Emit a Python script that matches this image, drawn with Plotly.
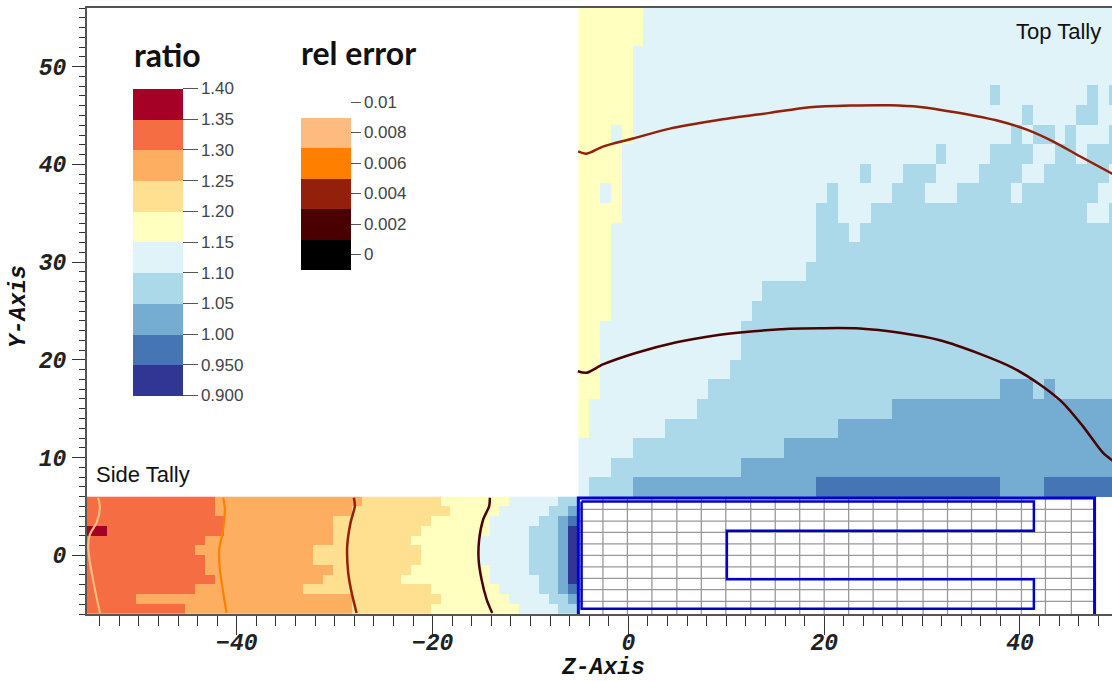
import plotly.graph_objects as go

# ratio bands: letter -> (band midpoint, colour)
ratio_edges = [0.90, 0.95, 1.00, 1.05, 1.10, 1.15, 1.20, 1.25, 1.30, 1.35, 1.40]
ratio_colors = ["#313695", "#4575B4", "#74ADD1", "#ABD9E9", "#E0F3F8",
                "#FFFFBF", "#FEE090", "#FDAE61", "#F46D43", "#A50026"]
band_value = {"N": 0.925, "B": 0.975, "D": 1.025, "M": 1.075, "L": 1.125,
              "Y": 1.175, "P": 1.225, "o": 1.275, "O": 1.325, "A": 1.375}
ratio_ticks = [1.40, 1.35, 1.30, 1.25, 1.20, 1.15, 1.10, 1.05, 1.00, 0.95, 0.90]
ratio_ticktext = ["1.40", "1.35", "1.30", "1.25", "1.20", "1.15", "1.10", "1.05", "1.00", "0.950", "0.900"]

# rel error bands
rel_ticks = [0, 0.002, 0.004, 0.006, 0.008, 0.01]
rel_ticktext = ["0", "0.002", "0.004", "0.006", "0.008", "0.01"]
rel_colors = ["#000000", "#4B0000", "#92200A", "#FF8000", "#FDBB7F", "#FFFFFF"]

# top tally, row by row from y=6 upward, run lengths of bands along Z
top_rows = [
    "L1 M4 D17 B17 D4 B7",
    "L3 M12 D35",
    "L5 M14 D31",
    "Y1 L7 M16 D26",
    "Y1 L10 M18 D21",
    "Y2 L10 M27 D3 M1 D1 M6",
    "Y2 L12 M36",
    "Y2 L13 M35",
    "Y2 L13 M35",
    "Y3 L13 M34",
    "Y3 L14 M33",
    "Y3 L18 M29",
    "Y3 L19 M28",
    "Y3 L19 M3 L1 M24",
    "Y4 L18 M2 L3 M20 L2 M1",
    "Y2 L1 Y1 L19 M1 L5 M3 L3 M5 L1 M7 L2",
    "Y4 L22 M1 L3 M3 L4 M4 L2 M6 L1",
    "Y4 L29 M1 L4 M4 L2 M2 L1 M3",
    "Y3 L1 Y1 L35 M1 L1 M2 L1 M1 L3 M1",
    "Y5 L36 M1 L4 M2 L2",
    "Y5 L33 M1 L8 M1 L1 M1",
    "Y5 L45",
    "Y5 L45",
    "Y6 L44",
    "Y6 L44",
]
# side tally, row by row from y=6 downward
side_rows = [
    "O13 o15 P8 Y7 L5 M2",
    "O13 o14 P10 Y5 L5 M2 D1",
    "O14 o11 P10 Y6 L5 M2 D1 B1",
    "A2 O12 o11 P9 Y7 L4 M3 D1 N1",
    "O12 o13 P8 Y7 L5 M3 D1 N1",
    "O11 o12 P11 Y6 L5 M3 D1 N1",
    "O12 o11 P11 Y6 L5 M3 D1 N1",
    "O12 o13 P8 Y8 L4 M3 D1 N1",
    "O13 o11 P8 Y9 L5 M2 D1 N1",
    "O11 o11 P13 Y7 L4 M2 D1 B1",
    "O5 o22 P9 Y7 L4 M2 D1",
    "O10 o17 P8 Y9 L4 M2",
]

# rel error contours: (z, y, level)
c_top_z = [-5.13, -4.27, -2.60, 0.46, 4.24, 9.04, 14.45, 18.54, 22.63, 26.71, 29.78, 33.55, 37.95, 40.7, 43.36, 46.12, 49.5]
c_top_y = [41.34, 41.1, 41.82, 42.64, 43.66, 44.51, 45.27, 45.84, 46.02, 46.05, 45.88, 45.3, 44.41, 43.56, 42.36, 40.83, 39.0]
c_low_z = [-5.16, -4.27, -2.6, 0.84, 4.92, 9.01, 11.7, 16.5, 19.56, 23.64, 27.73, 31.82, 35.9, 39.27, 42.03, 44.38, 46.42, 48.47, 49.5]
c_low_y = [18.84, 18.68, 19.53, 20.73, 21.81, 22.53, 22.83, 23.18, 23.24, 23.21, 22.77, 22.01, 20.62, 19.19, 17.48, 15.61, 13.22, 10.5, 9.65]
c_s1_z = [-54.16, -53.98, -54.32, -55.0, -55.18, -55.0, -54.49, -53.98]
c_s1_y = [5.9, 4.88, 3.34, 2.15, 0.95, -0.72, -3.48, -5.9]
c_s2_z = [-41.39, -41.22, -41.45, -41.8, -41.73, -41.39, -41.04]
c_s2_y = [5.9, 4.7, 2.32, 0.61, -1.43, -3.78, -5.9]
c_s3_z = [-28.04, -27.94, -28.38, -28.72, -28.62, -28.27, -27.76]
c_s3_y = [5.9, 5.04, 3.34, 0.95, -1.77, -3.81, -5.9]
c_s4_z = [-14.15, -14.22, -14.83, -15.24, -15.3, -15.0, -14.48, -13.91]
c_s4_y = [5.9, 5.04, 3.68, 1.64, -0.41, -2.45, -4.5, -5.9]

# assembly outline and mesh
outer_z = [-5.11, -5.11, 47.62, 47.62]
outer_y = [-6, 5.88, 5.88, -6]
inner_z = [-4.78, 41.42, 41.42, 10.06, 10.06, 41.42, 41.42, -4.78, -4.78]
inner_y = [5.52, 5.52, 2.51, 2.51, -2.45, -2.45, -5.47, -5.47, 5.52]
mesh_z = [-2.6, -0.1, 2.4, 4.95, 7.45, 9.95, 12.5, 15.0, 17.5, 20.0, 22.5, 25.0, 27.45, 30.1, 32.6, 35.05, 37.6, 40.15, 42.6, 45.25]
mesh_y = [4.7, 3.5, 2.35, 1.17, 0, -1.17, -2.35, -3.5, -4.7]


def decode(row):
    out = []
    for run in row.split():
        out += [band_value[run[0]]] * int(run[1:])
    assert len(out) == 50, row
    return out


def stepped(colors):
    n = len(colors)
    scale = []
    for i, c in enumerate(colors):
        scale += [[i / n, c], [(i + 1) / n, c]]
    return scale


ratio_scale = stepped(ratio_colors)
rel_scale = stepped(rel_colors)
rel_color = dict(zip(rel_ticks, rel_colors))

top_z_edges = [-5.1 + 1.106 * i for i in range(51)]
top_y_edges = [6 + 2.004 * i for i in range(26)]
side_z_edges = [-55.3 + 1.004 * i for i in range(51)]
side_y_edges = list(range(-6, 7))

LABEL = dict(family="Liberation Sans", size=17, color="#444444")

fig = go.Figure()
fig.add_trace(go.Heatmap(
    x=top_z_edges, y=top_y_edges, z=[decode(r) for r in top_rows],
    zmin=0.9, zmax=1.4, colorscale=ratio_scale,
    colorbar=dict(
        xref="container", yref="container", x=133 / 1112, xanchor="left",
        y=1 - 99.5 / 681, yanchor="top", lenmode="pixels", len=307,
        thicknessmode="pixels", thickness=50, xpad=0, ypad=0, outlinewidth=0,
        tickvals=ratio_ticks, ticktext=ratio_ticktext, ticks="outside",
        ticklen=15, tickcolor="#555555", tickwidth=1, tickfont=LABEL),
))
fig.add_trace(go.Heatmap(
    x=side_z_edges, y=side_y_edges, z=[decode(r) for r in reversed(side_rows)],
    zmin=0.9, zmax=1.4, colorscale=ratio_scale, showscale=False,
))

# mesh
grid_x, grid_y = [], []
for z in mesh_z:
    grid_x += [z, z, None]
    grid_y += [-6, 5.88, None]
for y in mesh_y:
    grid_x += [outer_z[0], outer_z[-1], None]
    grid_y += [y, y, None]
fig.add_trace(go.Scatter(x=grid_x, y=grid_y, mode="lines",
                         line=dict(color="#999999", width=1.3), showlegend=False, hoverinfo="skip"))
fig.add_trace(go.Scatter(x=outer_z, y=outer_y, mode="lines",
                         line=dict(color="#0000D8", width=3), showlegend=False, hoverinfo="skip"))
fig.add_trace(go.Scatter(x=inner_z, y=inner_y, mode="lines",
                         line=dict(color="#0000C8", width=2.5), showlegend=False, hoverinfo="skip"))

# contours
for zs, ys, level, w in [
    (c_top_z, c_top_y, 0.004, 2.5), (c_low_z, c_low_y, 0.002, 2.5),
    (c_s1_z, c_s1_y, 0.008, 2.2), (c_s2_z, c_s2_y, 0.006, 2.2),
    (c_s3_z, c_s3_y, 0.004, 2.5), (c_s4_z, c_s4_y, 0.002, 2.5),
]:
    fig.add_trace(go.Scatter(x=zs, y=ys, mode="lines", line=dict(color=rel_color[level], width=w, shape="spline", smoothing=0.8),
                             showlegend=False, hoverinfo="skip"))

# rel error colour bar (carried by invisible markers at contour starts)
fig.add_trace(go.Scatter(
    x=[c_s4_z[0], c_s3_z[0], c_s2_z[0], c_s1_z[0]], y=[5.9, 5.9, 5.9, 5.9],
    mode="markers", showlegend=False, hoverinfo="skip",
    marker=dict(size=1, opacity=0, color=[0.002, 0.004, 0.006, 0.008],
                cmin=-0.001, cmax=0.011, colorscale=rel_scale,
                colorbar=dict(
                    xref="container", yref="container", x=301 / 1112, xanchor="left",
                    y=1 - 97.5 / 681, yanchor="top", lenmode="pixels", len=183,
                    thicknessmode="pixels", thickness=50, xpad=0, ypad=0, outlinewidth=0,
                    tickvals=rel_ticks, ticktext=rel_ticktext, ticks="outside",
                    ticklen=10, tickcolor="#555555", tickwidth=1, tickfont=LABEL)),
))

tick_font = dict(family="Liberation Mono", size=23, color="#222222", weight="bold", style="italic")
title_font = dict(family="Liberation Mono", size=23, color="#111111", weight="bold", style="italic")
fig.update_layout(
    width=1112, height=681, margin=dict(l=87, r=0, t=8, b=67, autoexpand=False),
    paper_bgcolor="white", plot_bgcolor="white", font=dict(family="Liberation Sans"),
    showlegend=False,
    xaxis=dict(
        range=[-55.3, 49.4], showgrid=False, zeroline=False, showline=True, mirror=True,
        linecolor="#555555", linewidth=2, ticks="outside", ticklen=19, tickcolor="#333333",
        tickwidth=1.3, tick0=0, dtick=20, tickfont=tick_font, ticklabelstandoff=-13,
        minor=dict(ticks="outside", ticklen=10, dtick=2, tick0=0, tickcolor="#333333", tickwidth=1.3, showgrid=False),
    ),
    yaxis=dict(
        range=[-6, 56], showgrid=False, zeroline=False, showline=True,
        linecolor="#555555", linewidth=2, ticks="outside", ticklen=13, tickcolor="#333333",
        tickwidth=1.3, tick0=0, dtick=10, tickfont=tick_font, ticklabelstandoff=1,
        minor=dict(ticks="outside", ticklen=6, dtick=1, tick0=0, tickcolor="#333333", tickwidth=1.3, showgrid=False),
    ),
    annotations=[
        dict(x=(603 - 87) / 1025, y=(614 - 667.5) / 606, xref="paper", yref="paper", text="Z-Axis",
             showarrow=False, font=title_font, xanchor="center", yanchor="middle"),
        dict(x=(19 - 87) / 1025, y=(614 - 307) / 606, xref="paper", yref="paper", text="Y-Axis",
             showarrow=False, textangle=-90, font=title_font, xanchor="center", yanchor="middle"),
        dict(x=-50.75, y=51.2, xref="x", yref="y", text="ratio", showarrow=False, xanchor="left",
             font=dict(family="Lato", size=32, color="#111111", weight="bold")),
        dict(x=-33.65, y=51.4, xref="x", yref="y", text="rel error", showarrow=False, xanchor="left",
             font=dict(family="Lato", size=32, color="#111111", weight="bold")),
        dict(x=48.5, y=53.6, xref="x", yref="y", text="Top Tally", showarrow=False, xanchor="right",
             font=dict(family="Liberation Sans", size=22, color="#111111")),
        dict(x=-54.55, y=8.3, xref="x", yref="y", text="Side Tally", showarrow=False, xanchor="left",
             font=dict(family="Liberation Sans", size=22, color="#111111")),
    ],
)
fig.write_html("out.html", config=dict(displayModeBar=False),
               post_script="document.body.style.margin='0';document.body.style.overflow='hidden';")
